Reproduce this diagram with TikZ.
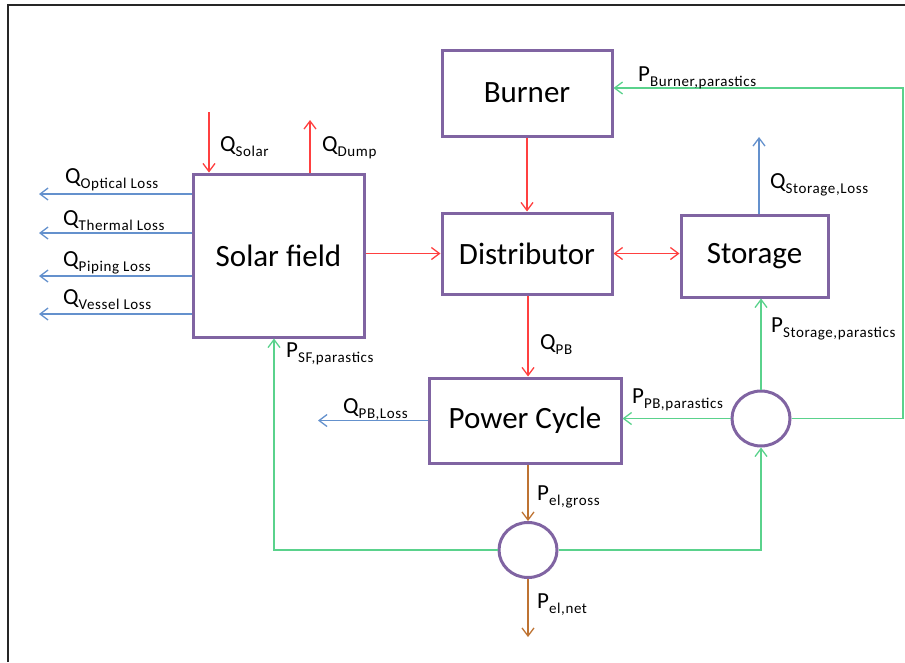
\documentclass[tikz,border=0pt]{standalone}
\usepackage{fontspec}
\setmainfont{Carlito}
\newfontfamily\subfont[LetterSpace=4]{Carlito}
\definecolor{blkpurple}{RGB}{128,100,162}
\definecolor{heatred}{RGB}{255,64,64}
\definecolor{lossblue}{RGB}{100,145,205}
\definecolor{paragreen}{RGB}{90,210,140}
\definecolor{elbrown}{RGB}{190,115,50}
\usetikzlibrary{arrows.meta,positioning,shapes.geometric,calc}
\newcommand{\flow}[2]{{\fontsize{23}{23}\selectfont #1}\raisebox{-5pt}{\subfont\fontsize{15}{15}\selectfont #2}}
\tikzset{
  block/.style={draw=blkpurple, line width=3pt, fill=white, font=\fontsize{31}{31}\selectfont, align=center},
  junction/.style={ellipse, draw=blkpurple, line width=3pt, fill=white, minimum width=58pt, minimum height=55pt, inner sep=0pt},
  flowtip/.style={-{Straight Barb[length=8pt, width=12pt]}},
  heat/.style={flowtip, heatred, line width=1.3pt},
  loss/.style={flowtip, lossblue, line width=1.3pt},
  para/.style={flowtip, paragreen, line width=1.3pt},
  elec/.style={flowtip, elbrown, line width=1.3pt},
  lbl/.style={inner sep=0pt, anchor=base west}
}

\begin{document}
\begin{tikzpicture}[x=1pt, y=-1pt]
  \useasboundingbox (0,0) rectangle (905,662);
  %--- frame ---
  \draw[line width=1.5pt, black!85] (8,662) -- (8,5) -- (905,5);

  % Blocks
  \node[block, minimum width=171pt, minimum height=163pt] (sf) at (278.5,255.5) {Solar field};
  \node[block, minimum width=170pt, minimum height=86pt] (burner) at (527,93) {Burner};
  \node[block, minimum width=170pt, minimum height=81pt] (dist) at (527,253.5) {Distributor};
  \node[block, minimum width=147pt, minimum height=82pt] (stor) at (754.5,256) {Storage};
  \node[block, minimum width=192pt, minimum height=85pt] (pc) at (525,420.5) {Power Cycle};

  % Junctions
  \node[junction] (splitb) at (528,550) {};
  \node[junction] (splitr) at (761,418.5) {};

  % Free ends
  \coordinate (solarin) at (209,112);
  \coordinate (dumpout) at (310,120);
  \coordinate (optloss) at (39,194);
  \coordinate (thermloss) at (39,233);
  \coordinate (pipeloss) at (39,276);
  \coordinate (vessloss) at (39,314);
  \coordinate (storloss) at (759,137);
  \coordinate (pbloss) at (318,420.5);
  \coordinate (elnet) at (528,637);
  \coordinate (loopr) at (903,88);

  % Heat flows
  \draw[heat] (solarin) -- (sf.north -| solarin);
  \draw[heat] (sf.north -| dumpout) -- (dumpout);
  \draw[heat] (sf.east |- dist.west) -- (dist.west);
  \draw[heat] (burner.south) -- (dist.north);
  \draw[heat, {Straight Barb[length=8pt, width=12pt]}-{Straight Barb[length=8pt, width=12pt]}] (dist.east) -- (stor.west |- dist.east);
  \draw[heat] (dist.south -| splitb) -- (pc.north -| splitb);

  % Losses
  \draw[loss] (sf.west |- optloss) -- (optloss);
  \draw[loss] (sf.west |- thermloss) -- (thermloss);
  \draw[loss] (sf.west |- pipeloss) -- (pipeloss);
  \draw[loss] (sf.west |- vessloss) -- (vessloss);
  \draw[loss] (stor.north -| storloss) -- (storloss);
  \draw[loss] (pc.west) -- (pbloss);

  % Electricity
  \draw[elec] (pc.south -| splitb) -- (splitb.north);
  \draw[elec] (splitb.south) -- (elnet);

  % Parasitics
  \draw[para] (splitb.west) -| ([xshift=-4.5pt]sf.south);
  \draw[para] (splitb.east) -| (splitr.south);
  \draw[para] (splitr.north) -- (splitr.north |- stor.south);
  \draw[para] (splitr.west) -- (pc.east |- splitr.west);
  \draw[para] (splitr.east) -| (loopr) -- (burner.east |- loopr);

  % Labels
  \node[lbl] (lsolar) at (220,151) {\flow{Q}{Solar}};
  \node[lbl] (ldump) at (322,151) {\flow{Q}{Dump}};
  \node[lbl] (lopt) at (65,183) {\flow{Q}{Optical Loss}};
  \node[lbl] (ltherm) at (63,225) {\flow{Q}{Thermal Loss}};
  \node[lbl] (lpipe) at (63,266) {\flow{Q}{Piping Loss}};
  \node[lbl] (lvess) at (63,304) {\flow{Q}{Vessel Loss}};
  \node[lbl] (lsf) at (286,357) {\flow{P}{SF,parastics}};
  \node[lbl] (lqpb) at (540,349) {\flow{Q}{PB}};
  \node[lbl] (lpbloss) at (343,413) {\flow{Q}{PB,Loss}};
  \node[lbl] (lgross) at (537,500) {\flow{P}{el,gross}};
  \node[lbl] (lnet) at (537,608) {\flow{P}{el,net}};
  \node[lbl] (lppb) at (632,403) {\flow{P}{PB,parastics}};
  \node[lbl] (lpstor) at (771,332) {\flow{P}{Storage,parastics}};
  \node[lbl] (lqstor) at (770,188) {\flow{Q}{Storage,Loss}};
  \node[lbl] (lpburn) at (638,81) {\flow{P}{Burner,parastics}};
\end{tikzpicture}
\end{document}
